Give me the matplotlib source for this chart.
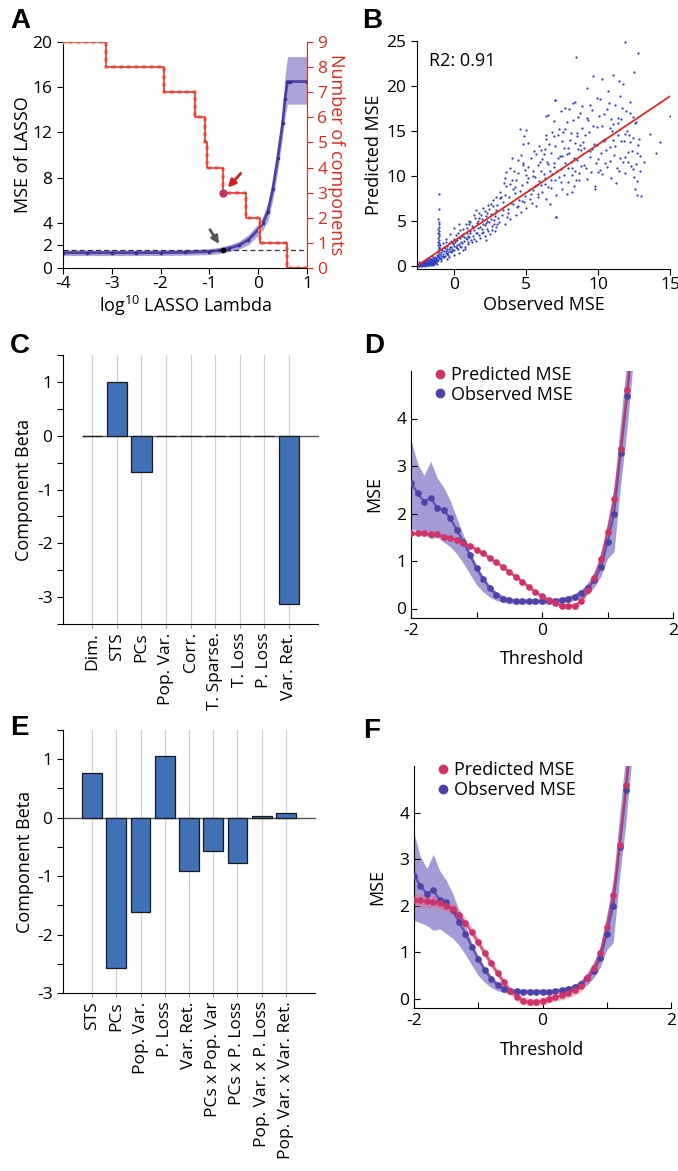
import numpy as np
import matplotlib
matplotlib.use('Agg')
import matplotlib.pyplot as plt

plt.rcParams['font.family'] = ['Open Sans', 'DejaVu Sans']
plt.rcParams['mathtext.default'] = 'regular'
plt.rcParams['axes.unicode_minus'] = False
plt.rcParams['font.size'] = 12

# ---------------- Panel A data ----------------
lasso_log_lambda = [-4.0, -3.5, -3.0, -2.5, -2.0, -1.5, -1.0, -0.8, -0.6, -0.4, -0.2, 0.0, 0.1, 0.2, 0.3, 0.4, 0.5, 0.55, 0.6, 0.65, 1.0]
lasso_mse        = [1.35, 1.35, 1.35, 1.35, 1.36, 1.38, 1.45, 1.55, 1.75, 2.0, 2.5, 3.4, 4.0, 5.0, 7.0, 9.7, 12.8, 15.0, 16.5, 16.5, 16.5]
lasso_mse_hi     = [1.6, 1.6, 1.6, 1.6, 1.61, 1.63, 1.72, 1.83, 2.05, 2.35, 2.95, 3.9, 4.6, 5.8, 7.9, 10.8, 13.9, 17.0, 18.7, 18.7, 18.7]
lasso_mse_lo     = [1.1, 1.1, 1.1, 1.1, 1.11, 1.13, 1.18, 1.27, 1.45, 1.65, 2.05, 2.9, 3.4, 4.2, 6.1, 8.6, 11.7, 13.4, 14.5, 14.5, 14.5]
chosen_log_lambda = -0.73
chosen_mse = 1.62
comp_log_lambda = [-4.0, -3.12, -1.94, -1.29, -1.09, -1.04, -0.73, -0.26, 0.03, 0.58, 1.0]
comp_count      = [9, 8, 7, 6, 5, 4, 3, 2, 1, 0, 0]
chosen_count = 3

# ---------------- Panel B data (observed MSE, predicted MSE) ----------------
obs_core = [-2.55,-2.5,-2.48,-2.45,-2.42,-2.4,-2.38,-2.35,-2.33,-2.3,-2.28,-2.25,-2.22,-2.2,-2.18,-2.15,-2.12,-2.1,-2.08,-2.05,-2.02,-2.0,-1.98,-1.95,-1.92,-1.9,-1.88,-1.85,-1.82,-1.8,-1.78,-1.75,-1.72,-1.7,-1.68,-1.65,-1.62,-1.6,-1.58,-1.55,-1.52,-1.5,-1.48,-1.45,-1.42,-1.4,-1.38,-1.35,-1.32,-1.3,
            -2.58,-2.52,-2.46,-2.4,-2.36,-2.31,-2.26,-2.21,-2.16,-2.11,-2.06,-2.01,-1.96,-1.91,-1.86,-1.81,-1.76,-1.71,-1.66,-1.61,-1.56,-1.51,-1.46,-1.41,-1.36,-1.31,-1.26,-1.21,-1.18,-1.16,-2.44,-2.24,-2.04,-1.84,-1.64,-1.44,-1.24,-1.94,-1.74,-1.54]
pred_core = [0.05,0.1,0.0,0.15,0.08,0.2,0.05,0.25,0.12,0.3,0.1,0.35,0.18,0.05,0.4,0.22,0.1,0.45,0.3,0.15,0.5,0.25,0.08,0.55,0.35,0.2,0.6,0.4,0.15,0.65,0.3,0.5,0.2,0.75,0.45,0.3,0.8,0.55,0.25,0.7,0.4,0.9,0.6,0.35,0.85,0.5,1.0,0.7,0.45,0.9,
             0.12,0.02,0.22,0.1,0.32,0.0,0.18,0.28,0.08,0.14,0.36,0.04,0.3,0.1,0.22,0.42,0.12,0.34,0.18,0.5,0.28,0.15,0.42,0.62,0.3,0.55,0.38,0.7,0.5,1.1,0.38,0.02,0.0,0.05,0.1,0.2,0.25,0.7,0.9,1.15]
obs_spike = [-1.12,-1.1,-1.14,-1.08,-1.11,-1.13,-1.09,-1.1,-1.12,-1.07,-1.11,-1.1,-1.13,-1.09,-1.1,-1.12,-1.08,-1.11,-1.1,-1.1,-1.09,-1.11,-1.12,-1.1,-1.1,-1.1]
pred_spike = [0.6,0.9,1.1,1.3,1.5,1.7,1.9,2.1,2.3,2.5,2.7,2.9,3.1,3.3,3.5,3.7,3.9,4.1,4.3,4.6,4.9,5.2,1.0,2.0,6.3,8.0]
obs_low = [-1.25,-1.2,-1.0,-0.95,-0.9,-0.85,-0.8,-0.75,-0.7,-0.65,-0.6,-0.55,-0.5,-0.45,-0.4,-0.35,-0.3,-0.25,-0.2,-0.15,-0.1,-0.05,0.0,0.05,0.1,0.15,0.2,0.25,0.3,0.35,0.4,0.45,0.5,-0.8,-0.6,-0.3,0.0,0.3,-0.9,-0.4,-0.5,0.0,0.3,0.6,
           -1.02,-0.92,-0.82,-0.72,-0.62,-0.52,-0.42,-0.32,-0.22,-0.12,-0.02,0.08,0.18,0.28,0.38,0.48,0.58,0.68,0.78,0.88,0.98,-0.78,-0.48,-0.18,0.12,0.42,0.72,-0.98,-0.58,0.92]
pred_low = [0.8,1.2,0.9,1.5,1.1,1.8,1.3,1.6,1.0,2.0,1.4,1.7,2.2,1.5,1.9,2.5,1.7,2.1,2.8,1.9,2.4,3.0,2.2,2.6,3.4,2.0,2.9,3.6,2.4,3.2,4.0,2.7,3.3,2.5,3.0,3.5,4.2,4.6,0.5,1.0,0.8,1.2,1.4,1.8,
            1.35,0.75,1.05,2.15,1.15,1.9,1.25,2.15,1.55,2.55,1.75,2.85,2.35,1.85,3.15,2.05,3.55,2.75,3.05,4.25,3.35,0.95,1.35,1.65,2.05,2.25,2.15,2.3,2.6,2.45]
obs_mid = [0.55,0.6,0.7,0.75,0.8,0.9,0.95,1.0,1.1,1.15,1.2,1.3,1.35,1.4,1.5,1.55,1.6,1.7,1.75,1.8,1.9,1.95,2.0,2.1,2.15,2.2,2.3,2.35,2.4,2.5,2.55,2.6,2.7,2.75,2.8,2.9,2.95,1.05,1.65,2.25,2.85,0.85,
           1.02,1.12,1.22,1.32,1.42,1.52,1.62,1.72,1.82,1.92,2.02,2.12,2.22,2.32,2.42,2.52,2.62,2.72,2.82,2.92,1.08,1.38,1.68,1.98,2.28,2.58,2.88,1.48,2.18,2.78]
pred_mid = [2.5,4.1,3.2,1.9,4.6,3.6,2.6,5.0,3.9,2.9,4.4,3.3,5.6,4.0,2.8,4.8,3.7,5.9,3.1,4.3,5.2,3.6,6.4,4.5,3.3,5.5,4.1,6.8,4.9,3.5,5.8,4.4,7.3,5.1,3.9,6.2,4.7,4.7,4.2,5.0,5.5,3.0,
            3.2,4.9,2.7,4.3,5.3,3.7,5.0,3.4,5.7,4.1,3.8,6.1,4.8,3.9,6.3,5.2,4.0,6.6,5.9,4.3,3.7,3.0,5.3,4.6,5.9,6.9,7.6,6.2,2.9,4.6]
obs_upper = [3.0,3.1,3.2,3.3,3.4,3.5,3.6,3.7,3.8,3.9,4.0,4.1,4.2,4.3,4.4,4.5,4.6,4.7,4.8,4.9,5.0,5.1,5.2,5.3,5.4,5.5,5.6,5.7,5.8,5.9,3.15,3.45,3.75,4.05,4.35,4.65,4.95,5.25,5.55,5.85,3.6,4.4,5.0,5.6,4.8,
             3.05,3.25,3.35,3.55,3.65,3.85,3.95,4.15,4.25,4.45,4.55,4.75,4.85,5.05,5.15,5.35,5.45,5.65,5.75,5.95,3.5,3.9,4.3,4.7,5.1,5.5,5.9,4.0,4.9,5.8]
pred_upper = [6.8,4.9,8.2,5.7,7.1,4.6,8.9,6.3,7.6,5.2,9.5,6.9,8.1,5.6,10.3,7.3,6.0,9.0,11.4,7.8,6.4,9.8,8.4,12.0,7.0,10.5,8.9,6.7,11.2,9.4,7.5,9.2,5.9,8.6,6.5,12.3,10.1,7.4,12.8,8.0,10.4,11.8,15.1,9.9,13.5,
              5.3,7.6,6.2,7.9,5.4,9.1,7.0,10.6,8.8,6.6,8.3,11.2,7.1,9.3,11.0,8.0,10.0,12.4,9.0,11.5,9.8,10.9,9.6,7.2,13.7,8.4,13.3,12.0,10.7,7.6]
obs_high = [6.0,6.1,6.2,6.3,6.4,6.5,6.6,6.7,6.8,6.9,7.0,7.1,7.2,7.3,7.4,7.5,7.6,7.7,7.8,7.9,8.0,8.1,8.2,8.3,8.4,8.5,8.6,8.7,8.8,8.9,6.05,6.35,6.65,6.95,7.25,7.55,7.85,8.15,8.45,8.75,6.5,7.0,7.5,8.0,8.5,7.05,6.3,
            6.02,6.12,6.22,6.32,6.42,6.52,6.62,6.72,6.82,6.92,7.02,7.12,7.22,7.32,7.42,7.52,7.62,7.72,7.82,7.92,8.02,8.12,8.22,8.32,8.42,8.52,8.62,8.72,8.82,8.92,6.4,6.9,7.4,7.9,8.4,8.9,6.7,7.7,8.7,8.2]
pred_high = [10.6,8.2,12.4,9.1,7.4,11.3,13.6,8.7,10.2,14.4,9.5,7.9,12.0,15.2,10.8,8.6,13.1,11.4,16.0,9.3,12.6,14.8,10.1,8.9,13.7,11.8,16.5,9.6,12.9,15.3,12.9,14.1,6.9,11.0,9.9,14.9,8.0,10.9,9.6,13.4,16.8,18.4,12.2,17.4,14.4,5.4,9.8,
             9.0,11.9,10.2,13.0,11.6,8.8,10.6,12.6,14.9,11.4,13.3,10.5,14.5,12.2,9.3,13.9,10.1,15.2,12.4,10.9,14.0,11.6,16.2,12.0,10.6,14.8,13.0,17.0,11.1,13.8,14.6,16.1,17.2,13.1,18.2,17.8,9.6,17.6,10.3,8.2]
obs_top = [9.0,9.1,9.2,9.3,9.4,9.5,9.6,9.7,9.8,9.9,10.0,10.1,10.2,10.3,10.4,10.5,10.6,10.7,10.8,10.9,11.0,11.1,11.2,11.3,11.4,11.5,11.6,11.7,11.8,11.9,12.0,12.1,12.2,12.3,12.4,12.5,12.6,12.7,12.8,12.9,9.25,9.75,10.25,10.75,11.25,11.75,12.25,9.55,10.45,11.05,11.65,12.45,
           9.05,9.15,9.35,9.45,9.65,9.85,9.95,10.05,10.15,10.35,10.55,10.65,10.85,10.95,11.15,11.35,11.45,11.55,11.85,11.95,12.05,12.15,12.35,12.55,12.65,12.85,9.4,9.9,10.4,10.9,11.4,11.9,12.4,12.9,9.2,10.0,10.8,11.6,12.2,12.7]
pred_top = [11.2,14.5,9.7,16.2,12.8,10.4,17.3,13.6,8.9,15.4,11.9,18.6,12.6,10.2,16.9,14.1,11.0,19.4,13.2,9.8,15.8,12.3,17.9,10.9,14.6,12.0,16.3,11.5,13.9,10.3,15.0,12.7,17.0,11.1,14.2,9.9,16.0,12.5,13.4,10.6,19.8,8.6,15.6,18.1,9.2,20.2,13.8,13.0,11.4,14.0,17.6,16.6,
            13.1,10.9,14.9,12.1,15.6,11.4,13.4,16.7,10.7,14.0,12.9,17.4,11.7,15.0,13.3,16.4,10.5,18.9,12.1,17.2,11.6,14.6,12.8,15.9,11.3,14.1,17.9,18.7,13.9,16.3,15.9,14.7,10.8,12.2,16.4,10.4,15.3,13.9,18.2,9.4]
obs_outlier = [11.88,12.8,8.44,12.5,11.0,9.63,11.42,10.3,14.98,7.0,8.26,13.0,12.73,12.56,14.3,13.6,6.4,4.54,4.82,7.07,13.2,14.0]
pred_outlier = [24.85,23.7,23.25,21.5,21.2,21.1,20.5,20.8,16.7,18.45,18.1,7.8,7.9,8.6,13.8,14.7,16.7,15.25,14.4,5.43,11.5,12.6]
fit_x = [-2.6, 15.0]
fit_y = [0.0, 18.85]
r2_text = 'R2: 0.91'

# ---------------- Panel C / E data ----------------
c_labels = ['Dim.', 'STS', 'PCs', 'Pop. Var.', 'Corr.', 'T. Sparse.', 'T. Loss', 'P. Loss', 'Var. Ret.']
c_beta   = [0.0, 1.0, -0.67, 0.0, 0.0, 0.0, 0.0, 0.0, -3.12]
e_labels = ['STS', 'PCs', 'Pop. Var.', 'P. Loss', 'Var. Ret.', 'PCs x Pop. Var', 'PCs x P. Loss',
            'Pop. Var. x P. Loss', 'Pop. Var. x Var. Ret.']
e_beta   = [0.77, -2.58, -1.62, 1.05, -0.91, -0.57, -0.78, 0.02, 0.08]

# ---------------- Panel D / F data ----------------
threshold = [-2.0,-1.9,-1.8,-1.7,-1.6,-1.5,-1.4,-1.3,-1.2,-1.1,-1.0,-0.9,-0.8,-0.7,-0.6,-0.5,-0.4,-0.3,-0.2,-0.1,
             0.0,0.1,0.2,0.3,0.4,0.5,0.6,0.7,0.8,0.9,1.0,1.1,1.2,1.3,1.4]
observed_mse = [2.64,2.43,2.25,2.33,2.12,2.07,1.90,1.65,1.40,1.12,0.85,0.62,0.43,0.29,0.21,0.17,0.16,0.15,0.15,0.15,
                0.15,0.15,0.16,0.18,0.21,0.25,0.32,0.44,0.60,0.87,1.40,2.00,3.27,4.48,6.0]
observed_hi = [3.55,3.05,2.80,3.10,2.75,2.55,2.27,1.90,1.55,1.20,0.92,0.68,0.50,0.36,0.28,0.23,0.21,0.21,0.21,0.21,
               0.21,0.21,0.22,0.24,0.27,0.31,0.40,0.55,0.78,1.12,1.80,2.55,3.95,5.3,6.8]
observed_lo = [1.68,1.63,1.57,1.47,1.50,1.40,1.30,1.15,0.95,0.72,0.50,0.35,0.24,0.17,0.13,0.11,0.10,0.10,0.10,0.10,
               0.10,0.10,0.11,0.12,0.14,0.17,0.22,0.30,0.45,0.68,1.05,1.20,2.60,3.80,5.3]
predicted_d = [1.58,1.58,1.58,1.56,1.56,1.51,1.48,1.44,1.38,1.32,1.24,1.16,1.07,0.97,0.88,0.77,0.67,0.56,0.46,0.35,
               0.26,0.18,0.11,0.06,0.05,0.06,0.15,0.38,0.65,1.05,1.62,2.30,3.35,4.60,6.0]
predicted_d_err = [0.04,0.04,0.04,0.04,0.04,0.04,0.04,0.04,0.04,0.04,0.04,0.04,0.04,0.04,0.04,0.04,0.04,0.04,0.04,0.04,
                   0.04,0.05,0.05,0.06,0.06,0.06,0.06,0.06,0.07,0.08,0.10,0.12,0.14,0.15,0.15]
predicted_f = [2.12,2.11,2.10,2.08,2.05,2.00,1.92,1.80,1.63,1.43,1.21,0.98,0.76,0.55,0.35,0.17,0.04,-0.04,-0.07,-0.07,
               -0.05,-0.01,0.03,0.07,0.12,0.18,0.28,0.45,0.66,0.98,1.55,2.22,3.30,4.60,6.0]
predicted_f_err = [0.14,0.14,0.14,0.14,0.13,0.13,0.12,0.12,0.11,0.10,0.10,0.09,0.09,0.08,0.08,0.08,0.08,0.08,0.08,0.08,
                   0.08,0.08,0.08,0.09,0.10,0.11,0.12,0.13,0.13,0.14,0.15,0.15,0.15,0.15,0.15]

# ---------------- styling ----------------
W, H = 678, 1171
fig = plt.figure(figsize=(W / 100, H / 100), dpi=100)

def px_axes(l, t, r, b):
    return fig.add_axes([l / W, 1 - b / H, (r - l) / W, (b - t) / H])

PURPLE = '#4E42A8'
PURPLE_BAND = '#7166BF'
CRIMSON = '#D0336A'
CRIMSON_BAND = '#E56A8E'
RED = '#E3281B'
BAR = '#4070B6'
TS = 12.5
LS = 13

def ylabel_at(ax, text, xpx, l, r, **kw):
    ax.set_ylabel(text, fontsize=LS, **kw)
    ax.yaxis.label.set_va('center')
    ax.yaxis.set_label_coords((xpx - l) / (r - l), 0.5)

def xlabel_at(ax, text, ypx, t, b, **kw):
    ax.set_xlabel(text, fontsize=LS, **kw)
    ax.xaxis.label.set_va('center')
    ax.xaxis.set_label_coords(0.5, (b - ypx) / (b - t))

# ---------------- Panel A ----------------
l, t, r, b = 63, 42, 307, 268
axA = px_axes(l, t, r, b)
axA.fill_between(lasso_log_lambda, lasso_mse_lo, lasso_mse_hi, color=PURPLE_BAND, alpha=0.6, lw=0)
axA.plot(lasso_log_lambda, lasso_mse, color=PURPLE, lw=2.0)
axA.plot(lasso_log_lambda, lasso_mse, color='#3A2F96', lw=0, marker='o', ms=1.6)
axA.axhline(chosen_mse, color='#333333', lw=0.9, dashes=(4, 2.5))
axA.plot([chosen_log_lambda], [chosen_mse], 'o', color='black', ms=3, zorder=5)
axA.annotate('', xy=(chosen_log_lambda - 0.04, chosen_mse + 0.3), xytext=(-1.02, 3.6),
             arrowprops=dict(arrowstyle='-|>', color='#555555', lw=2.0, mutation_scale=11))
axA.set_xlim(-4, 1)
axA.set_ylim(0, 20)
axA.set_yticks([0, 2, 4, 8, 12, 16, 20])
axA.set_xticks([-4, -3, -2, -1, 0, 1])
axA.tick_params(labelsize=TS, direction='out', length=4)
axA.tick_params(axis='x', pad=1.5)
axA.spines['top'].set_visible(False)
axA.spines['right'].set_visible(False)
ylabel_at(axA, 'MSE of LASSO', 23, l, r)
xlabel_at(axA, r'log$^{10}$ LASSO Lambda', 306, t, b)

axA2 = axA.twinx()
axA2.step(comp_log_lambda, comp_count, where='post', color='#F6A899', lw=3.2,
          linestyle=(0, (0.1, 1.6)), dash_capstyle='round')
axA2.step(comp_log_lambda, comp_count, where='post', color=RED, lw=1.1)
axA2.plot([chosen_log_lambda], [chosen_count], 'o', color='#C0306A', ms=5, zorder=6)
axA2.annotate('', xy=(chosen_log_lambda + 0.07, chosen_count + 0.12), xytext=(-0.32, 3.85),
              arrowprops=dict(arrowstyle='-|>', color='#D61E1E', lw=2.0, mutation_scale=11))
axA2.set_ylim(0, 9)
axA2.set_yticks(range(10))
axA2.tick_params(labelsize=TS, colors=RED, direction='out', length=4)
axA2.spines['right'].set_color(RED)
axA2.spines['top'].set_visible(False)
axA2.spines['left'].set_visible(False)
axA2.spines['bottom'].set_visible(False)
axA2.set_ylabel('Number of components', color=RED, fontsize=LS, rotation=270)
axA2.yaxis.label.set_va('center')
axA2.yaxis.set_label_coords((336 - l) / (r - l), 0.5)

# ---------------- Panel B ----------------
l, t, r, b = 417, 41, 670, 269
axB = px_axes(l, t, r, b)
sx = obs_core + obs_spike + obs_low + obs_mid + obs_upper + obs_high + obs_top + obs_outlier
sy = pred_core + pred_spike + pred_low + pred_mid + pred_upper + pred_high + pred_top + pred_outlier
axB.scatter(sx, sy, s=2.6, color='#2F40C0', lw=0)
axB.plot(fit_x, fit_y, color=RED, lw=1.3)
axB.text(-1.75, 22.8, r2_text, fontsize=LS, va='center', ha='left')
axB.set_xlim(-2.6, 15)
axB.set_ylim(-0.35, 25)
axB.set_xticks([0, 5, 10, 15])
axB.set_yticks([0, 5, 10, 15, 20, 25])
axB.tick_params(labelsize=TS, direction='out', length=4)
axB.tick_params(axis='x', pad=1.5)
axB.spines['top'].set_visible(False)
axB.spines['right'].set_visible(False)
ylabel_at(axB, 'Predicted MSE', 374, l, r)
xlabel_at(axB, 'Observed MSE', 305, t, b)

# ---------------- bar panels ----------------
def bar_panel(ax, labels, beta, ylo, zero_start):
    n = len(labels)
    pos = np.arange(n)
    for p in pos:
        ax.axvline(p, color='#D0D0D0', lw=0.9, zorder=0)
    ax.bar(pos, beta, width=0.82, color=BAR, edgecolor='#1A1A1A', lw=0.9, zorder=3)
    ax.plot([zero_start, 9.2], [0, 0], color='#555555', lw=1.0, zorder=2, clip_on=False)
    ax.set_xlim(-1.2, 9.2)
    ax.set_ylim(ylo, 1.5)
    yt = np.arange(ylo, 1.51, 0.5)
    ax.set_yticks(yt)
    ax.set_yticklabels([('%d' % v) if abs(v - round(v)) < 1e-6 else '' for v in yt])
    ax.set_xticks(pos)
    ax.set_xticklabels(labels, rotation=90, fontsize=TS)
    ax.tick_params(axis='y', labelsize=TS, direction='out', length=4)
    ax.tick_params(axis='x', direction='out', length=3, color='#999999', pad=3)
    ax.spines['top'].set_visible(False)
    ax.spines['right'].set_visible(False)

l, t, r, b = 63, 355, 318, 624
axC = px_axes(l, t, r, b)
bar_panel(axC, c_labels, c_beta, -3.5, -0.4)
ylabel_at(axC, 'Component Beta', 24, l, r)

l, t, r, b = 63, 730, 315, 993
axE = px_axes(l, t, r, b)
bar_panel(axE, e_labels, e_beta, -3.0, -1.2)
ylabel_at(axE, 'Component Beta', 25, l, r)

# ---------------- threshold panels ----------------
def mse_panel(ax, pred, pred_err, l, r, t, b, ylab_x, xlab_y):
    p = np.array(pred)
    e = np.array(pred_err)
    ax.fill_between(threshold, observed_lo, observed_hi, color=PURPLE_BAND, alpha=0.65, lw=0, zorder=1)
    ax.fill_between(threshold, p - e, p + e, color=CRIMSON_BAND, alpha=0.45, lw=0, zorder=2)
    ax.plot(threshold, observed_mse, color=PURPLE, lw=1.6, alpha=0.8, zorder=3)
    ax.plot(threshold, observed_mse, 'o', color=PURPLE, ms=3.8, zorder=4)
    ax.plot(threshold, pred, color=CRIMSON, lw=1.6, alpha=0.8, zorder=3)
    ax.plot(threshold, pred, 'o', color=CRIMSON, ms=3.8, zorder=4)
    h1, = ax.plot([], [], 'o', color=CRIMSON, ms=6)
    h2, = ax.plot([], [], 'o', color=PURPLE, ms=6)
    ax.legend([h1, h2], ['Predicted MSE', 'Observed MSE'], loc='upper left',
              bbox_to_anchor=(0.05, 1.05), frameon=False,
              fontsize=LS, handletextpad=0.1, handlelength=1.0, labelspacing=0.1, borderaxespad=0)
    ax.set_xlim(-2, 2)
    ax.set_ylim(-0.2, 5)
    ax.set_yticks([0, 1, 2, 3, 4])
    ax.set_xticks([-2, -1, 0, 1, 2])
    ax.set_xticklabels(['-2', '', '0', '', '2'])
    ax.tick_params(labelsize=TS, direction='in', length=4)
    ax.spines['top'].set_visible(False)
    ax.spines['right'].set_visible(False)
    ylabel_at(ax, 'MSE', ylab_x, l, r)
    xlabel_at(ax, 'Threshold', xlab_y, t, b)

l, t, r, b = 411, 371, 673, 618
axD = px_axes(l, t, r, b)
mse_panel(axD, predicted_d, predicted_d_err, l, r, t, b, 374, 659)

l, t, r, b = 414, 766, 671, 1008
axF = px_axes(l, t, r, b)
mse_panel(axF, predicted_f, predicted_f_err, l, r, t, b, 377, 1050)

# ---------------- panel letters ----------------
for letter, (x, y) in {'A': (10, 8), 'B': (362, 8), 'C': (10, 333), 'D': (364, 333),
                       'E': (10, 715), 'F': (363, 718)}.items():
    fig.text(x / W, 1 - y / H, letter, fontsize=20, fontweight='bold', family='Liberation Sans',
             va='top', ha='left')

fig.savefig('out.png', dpi=100)
